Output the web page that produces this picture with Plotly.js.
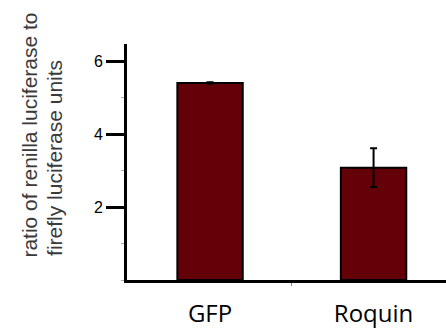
<!DOCTYPE html>
<html><head><meta charset="utf-8">
<script src="https://cdn.plot.ly/plotly-3.0.1.min.js"></script>
<style>html,body{margin:0;padding:0;background:#fff;}</style>
</head><body>
<div id="chart" style="width:446px;height:328px;"></div>
<script>
const categories = ["GFP", "Roquin"];
const ratioValues = [5.4, 3.08];
const errorValues = [0.02, 0.53];
const yTickValues = [2, 4, 6];
const yTickLabels = ["2", "4", "6"];
const titleLines = ["ratio of renilla luciferase to", "firefly luciferase units"];

const trace = {
  type: 'bar',
  x: [0, 1],
  y: ratioValues,
  width: 0.4,
  marker: {color: '#640008', line: {color: '#000', width: 2}},
  error_y: {type: 'data', array: errorValues, visible: true, color: '#000', thickness: 2, width: 3.5},
  hoverinfo: 'none'
};

const titleFont = {size: 21, color: '#3a3a3a', family: 'Liberation Sans, Arial, sans-serif'};

const layout = {
  width: 446, height: 328,
  margin: {l: 127, r: 0, t: 44, b: 48},
  paper_bgcolor: '#fff', plot_bgcolor: '#fff',
  showlegend: false,
  font: {family: 'Liberation Sans, Arial, sans-serif', color: '#000'},
  xaxis: {
    range: [-0.508, 1.443],
    tickvals: [0, 1], ticktext: categories,
    ticks: '', showline: true, linewidth: 3, linecolor: '#000',
    showgrid: false, zeroline: false,
    tickfont: {size: 24, color: '#000', family: 'Open Sans, Noto Sans, sans-serif'},
    ticklabelstandoff: 10,
    minor: {tickvals: [0.5], ticks: 'outside', ticklen: 3, tickwidth: 1, tickcolor: '#888', showgrid: false}
  },
  yaxis: {
    range: [0, 6.47],
    tickvals: yTickValues, ticktext: yTickLabels,
    ticks: 'outside', ticklen: 18, tickwidth: 3, tickcolor: '#000',
    showline: true, linewidth: 3, linecolor: '#000',
    showgrid: false, zeroline: false,
    tickfont: {size: 16, color: '#000'},
    minor: {dtick: 1, tick0: 0, ticks: 'outside', ticklen: 3, tickwidth: 1, tickcolor: '#aaa', showgrid: false}
  },
  annotations: [
    {xref: 'paper', yref: 'paper', x: -0.307, y: 0.0847, xanchor: 'center', yanchor: 'bottom',
     textangle: -90, showarrow: false, text: titleLines[0], font: titleFont},
    {xref: 'paper', yref: 'paper', x: -0.229, y: 0.0932, xanchor: 'center', yanchor: 'bottom',
     textangle: -90, showarrow: false, text: titleLines[1], font: titleFont}
  ]
};

Plotly.newPlot('chart', [trace], layout, {displayModeBar: false, staticPlot: true});
</script>
</body></html>
